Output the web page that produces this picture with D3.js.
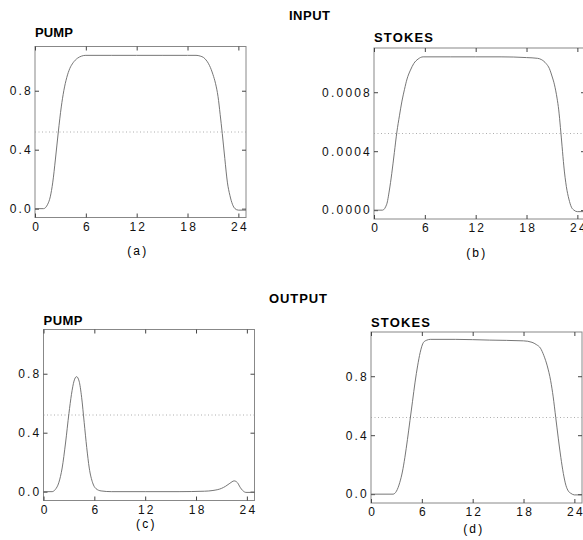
<!DOCTYPE html>
<html>
<head>
<meta charset="utf-8">
<script src="https://cdn.jsdelivr.net/npm/d3@7"></script>
<style>
  body { margin: 0; background: #fff; }
  svg { display: block; font-family: "Liberation Sans", Arial, Helvetica, sans-serif; }
</style>
</head>
<body>
<div id="chart"></div>
<script>
// ---- data ----
const xTicks = [0, 6, 12, 18, 24];
const yTicksUnit = [0, 0.4, 0.8];
const yTicksStokesIn = [0, 0.0004, 0.0008];

const sectionTitles = ["INPUT", "OUTPUT"];
const panelTitles = ["PUMP", "STOKES", "PUMP", "STOKES"];
const panelLabels = ["(a)", "(b)", "(c)", "(d)"];
const halfLevels = [0.52, 0.00052, 0.52, 0.52];

// (a) input pump
const pumpInTime  = [0, 1.0, 1.5, 1.8, 2.1, 2.4, 2.75, 3.1, 3.4, 3.75, 4.1, 4.5, 5.0, 5.5, 6, 9, 12, 15, 18, 19, 19.5, 19.9, 20.3, 20.6, 21.0, 21.3, 21.6, 21.85, 22.1, 22.4, 22.7, 23.0, 23.3, 23.6, 24.0, 24.9];
const pumpInValue = [0, 0, 0.03, 0.08, 0.18, 0.33, 0.52, 0.69, 0.8, 0.89, 0.95, 0.99, 1.02, 1.035, 1.04, 1.04, 1.04, 1.04, 1.04, 1.04, 1.035, 1.025, 1.0, 0.97, 0.91, 0.85, 0.76, 0.64, 0.51, 0.34, 0.18, 0.09, 0.03, 0.0, -0.01, -0.01];

// (b) input stokes
const stokesInTime  = [0, 1.0, 1.5, 1.8, 2.1, 2.4, 2.7, 3.0, 3.3, 3.6, 3.9, 4.3, 4.7, 5.2, 5.8, 9, 12, 15, 18, 19.3, 19.8, 20.3, 20.7, 21.0, 21.3, 21.6, 21.8, 22.0, 22.2, 22.4, 22.7, 23.0, 23.3, 23.6, 24.0, 24.9];
const stokesInValue = [0, 0, 0.00004, 0.00013, 0.00025, 0.00039, 0.00053, 0.00064, 0.00074, 0.00082, 0.00089, 0.00095, 0.000995, 0.001025, 0.00104, 0.00104, 0.00104, 0.00104, 0.001035, 0.00103, 0.00102, 0.000995, 0.00096, 0.00091, 0.00085, 0.00076, 0.00068, 0.00056, 0.00043, 0.0003, 0.00016, 0.000075, 0.00002, 0, -0.00001, -0.00001];

// (c) output pump
const pumpOutTime  = [0, 1.0, 1.4, 1.8, 2.2, 2.6, 3.0, 3.3, 3.6, 3.9, 4.2, 4.5, 4.8, 5.1, 5.4, 5.8, 6.2, 6.8, 8, 12, 16, 19, 20, 21, 21.5, 22.0, 22.5, 22.9, 23.2, 23.5, 23.9, 24.9];
const pumpOutValue = [0, 0, 0.015, 0.06, 0.16, 0.33, 0.53, 0.66, 0.75, 0.78, 0.75, 0.64, 0.47, 0.3, 0.16, 0.06, 0.02, 0.005, 0, 0, 0, 0.003, 0.008, 0.022, 0.037, 0.057, 0.073, 0.06, 0.03, 0.008, -0.005, -0.005];

// (d) output stokes
const stokesOutTime  = [0, 2.6, 3.0, 3.4, 3.7, 4.0, 4.3, 4.6, 4.9, 5.2, 5.5, 5.8, 6.2, 6.6, 7.0, 10, 14, 18, 19, 19.5, 20, 20.4, 20.8, 21.2, 21.5, 21.8, 22.1, 22.4, 22.7, 23.0, 23.3, 23.6, 24.0, 24.9];
const stokesOutValue = [0, 0, 0.02, 0.08, 0.15, 0.25, 0.37, 0.5, 0.63, 0.76, 0.87, 0.96, 1.03, 1.045, 1.05, 1.05, 1.045, 1.04, 1.03, 1.015, 0.99, 0.94, 0.87, 0.77, 0.66, 0.52, 0.38, 0.25, 0.14, 0.06, 0.02, 0.005, -0.005, -0.005];

// ---- layout ----
const width = 583, height = 540;
const plotW = 211, plotH = 171;

const svg = d3.select("#chart").append("svg")
              .attr("width", width)
              .attr("height", height);

// section headings
svg.append("text").attr("x", 289).attr("y", 20)
   .attr("font-weight", "bold").attr("font-size", 13)
   .attr("textLength", 41).attr("lengthAdjust", "spacing")
   .text(sectionTitles[0]);
svg.append("text").attr("x", 269).attr("y", 303)
   .attr("font-weight", "bold").attr("font-size", 13)
   .attr("textLength", 58).attr("lengthAdjust", "spacing")
   .text(sectionTitles[1]);

const panels = [
  { left: 35,   top: 46.5, yDomain: [-0.06, 1.1],      yTicks: yTicksUnit,     fmt: d3.format(".1f"), time: pumpInTime,    value: pumpInValue,    titleY: 37,  titleW: 38, labelY: 255 },
  { left: 374,  top: 48,   yDomain: [-0.00006, 0.0011], yTicks: yTicksStokesIn, fmt: d3.format(".4f"), time: stokesInTime,  value: stokesInValue,  titleY: 41.5, titleW: 59, labelY: 257 },
  { left: 43.5, top: 329.5, yDomain: [-0.06, 1.1],     yTicks: yTicksUnit,     fmt: d3.format(".1f"), time: pumpOutTime,   value: pumpOutValue,   titleY: 325, titleW: 39, labelY: 528 },
  { left: 371,  top: 332,  yDomain: [-0.06, 1.1],      yTicks: yTicksUnit,     fmt: d3.format(".1f"), time: stokesOutTime, value: stokesOutValue, titleY: 326.5, titleW: 59, labelY: 533 }
];

panels.forEach((p, i) => {
  const x = d3.scaleLinear().domain([0, 24.9]).range([p.left, p.left + plotW]);
  const y = d3.scaleLinear().domain(p.yDomain).range([p.top + plotH, p.top]);

  const g = svg.append("g");

  // frame
  g.append("rect")
   .attr("x", p.left).attr("y", p.top)
   .attr("width", plotW).attr("height", plotH)
   .attr("fill", "none").attr("stroke", "#888").attr("stroke-width", 1);

  // half-maximum dotted reference
  g.append("line")
   .attr("x1", p.left).attr("x2", p.left + plotW)
   .attr("y1", y(halfLevels[i])).attr("y2", y(halfLevels[i]))
   .attr("stroke", "#999").attr("stroke-width", 0.8)
   .attr("stroke-dasharray", "1,2.5");

  // axes with inward ticks
  const styleAxis = sel => {
    sel.select(".domain").remove();
    sel.selectAll(".tick line").attr("stroke", "#444");
    sel.selectAll("text").attr("font-size", 12).attr("fill", "#111")
       .attr("font-family", "Liberation Sans, Arial, sans-serif")
       .style("letter-spacing", "2.2px");
  };

  g.append("g").attr("transform", `translate(0,${p.top + plotH})`)
   .call(d3.axisBottom(x).tickValues(xTicks).tickSize(-4).tickPadding(4.5).tickFormat(d3.format("d")))
   .call(styleAxis)
   .selectAll("text").attr("dx", "1.1");
  g.append("g").attr("transform", `translate(0,${p.top})`)
   .call(d3.axisTop(x).tickValues(xTicks).tickSize(-4).tickFormat(""))
   .call(styleAxis);
  g.append("g").attr("transform", `translate(${p.left},0)`)
   .call(d3.axisLeft(y).tickValues(p.yTicks).tickSize(-4).tickPadding(2).tickFormat(p.fmt))
   .call(styleAxis);
  g.append("g").attr("transform", `translate(${p.left + plotW},0)`)
   .call(d3.axisRight(y).tickValues(p.yTicks).tickSize(-4).tickFormat(""))
   .call(styleAxis);

  // curve
  const line = d3.line()
                 .x(d => x(d[0]))
                 .y(d => y(d[1]))
                 .curve(d3.curveMonotoneX);
  g.append("path")
   .datum(d3.zip(p.time, p.value))
   .attr("d", line)
   .attr("fill", "none")
   .attr("stroke", "#666")
   .attr("stroke-width", 0.9);

  // panel title and label
  g.append("text")
   .attr("x", p.left).attr("y", p.titleY)
   .attr("font-weight", "bold").attr("font-size", 13)
   .attr("textLength", p.titleW).attr("lengthAdjust", "spacing")
   .text(panelTitles[i]);
  g.append("text")
   .attr("x", x(12) + 1.1).attr("y", p.labelY)
   .attr("text-anchor", "middle").attr("font-size", 12)
   .style("letter-spacing", "2.2px")
   .text(panelLabels[i]);
});
</script>
</body>
</html>
